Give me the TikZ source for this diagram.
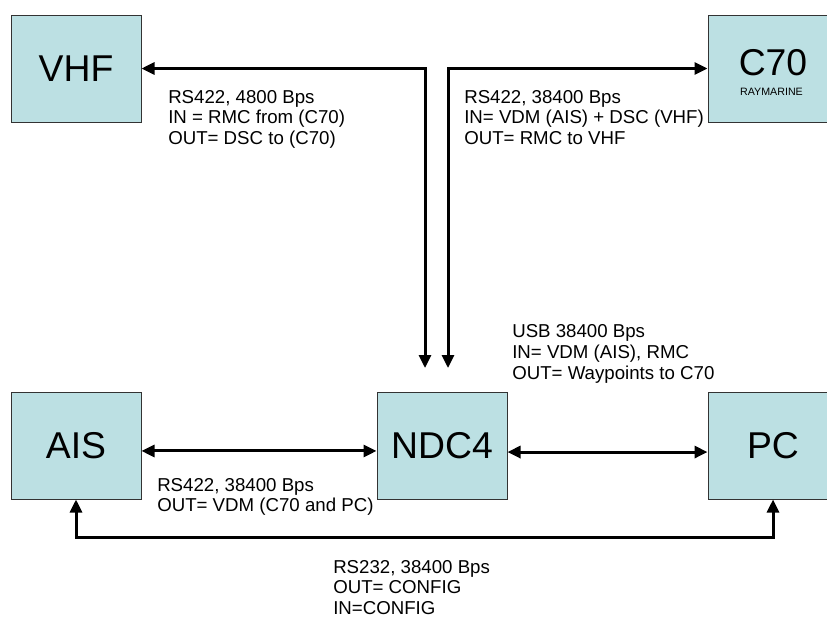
\documentclass[tikz,border=0pt]{standalone}
\usepackage{fontspec}
\setmainfont{Liberation Sans}
\usetikzlibrary{arrows.meta}
\definecolor{unitfill}{HTML}{BCE0E3}
\definecolor{unitedge}{HTML}{333333}

\begin{document}
\begin{tikzpicture}[x=0.75pt, y=-0.75pt,
                    >={Triangle[length=9.75pt, width=9pt]},
                    unit/.style={draw=unitedge, fill=unitfill, line width=0.75pt,
                                 minimum width=97.5pt, minimum height=80.25pt,
                                 inner sep=0pt, font=\fontsize{28}{32}\selectfont},
                    link/.style={line width=2.25pt, <->},
                    note/.style={anchor=north west, inner sep=0pt, align=left,
                                 font=\fontsize{14}{15.5}\selectfont}]

\useasboundingbox (0,0) rectangle (827,619);

%% ==== 各個設備 ======================================================
\node[unit] (vhf) at (76,68.5)   {VHF};
\node[unit] (c70) at (773,68.5)  {};
\node (c70name) at (773,62.5) {\fontsize{28}{32}\selectfont C70};
\node[anchor=base, inner sep=0pt] (c70make) at (771.5,95)
  {\fontsize{8}{9}\selectfont RAYMARINE};
\node[unit] (ais) at (76,445.5)  {AIS};
\node[unit] (ndc) at (442,445.5) {NDC4};
\node[unit] (pc)  at (773,445.5) {PC};

%% 進入 NDC4 上方的兩個箭頭端點
\coordinate (vhfin) at (425,368);
\coordinate (c70in) at (448,368);

%% ==== 連線 ==========================================================
\draw[link] (vhf.east) -| (vhfin);
\draw[link] (c70.west) -| (c70in);
\draw[link] ([yshift=-4.1pt]ais.east) -- ([yshift=-4.1pt]ndc.west);
\draw[link] ([yshift=-4.9pt]ndc.east) -- ([yshift=-4.9pt]pc.west);
\draw[link] (ais.south) -- ++(0,38) -| (pc.south);

%% ==== 連線說明 ======================================================
\node[note] (vhfnote) at (168,90)
  {RS422, 4800 Bps\\IN = RMC from (C70)\\OUT= DSC to (C70)};
\node[note] (c70note) at (464,90)
  {RS422, 38400 Bps\\IN= VDM (AIS) + DSC (VHF)\\OUT= RMC to VHF};
\node[note] (pcnote) at (512,324.5)
  {USB 38400 Bps\\IN= VDM (AIS), RMC\\OUT= Waypoints to C70};
\node[note] (aisnote) at (157,478)
  {RS422, 38400 Bps\\OUT= VDM (C70 and PC)};
\node[note] (cfgnote) at (333,560)
  {RS232, 38400 Bps\\OUT= CONFIG\\IN=CONFIG};

\end{tikzpicture}
\end{document}
